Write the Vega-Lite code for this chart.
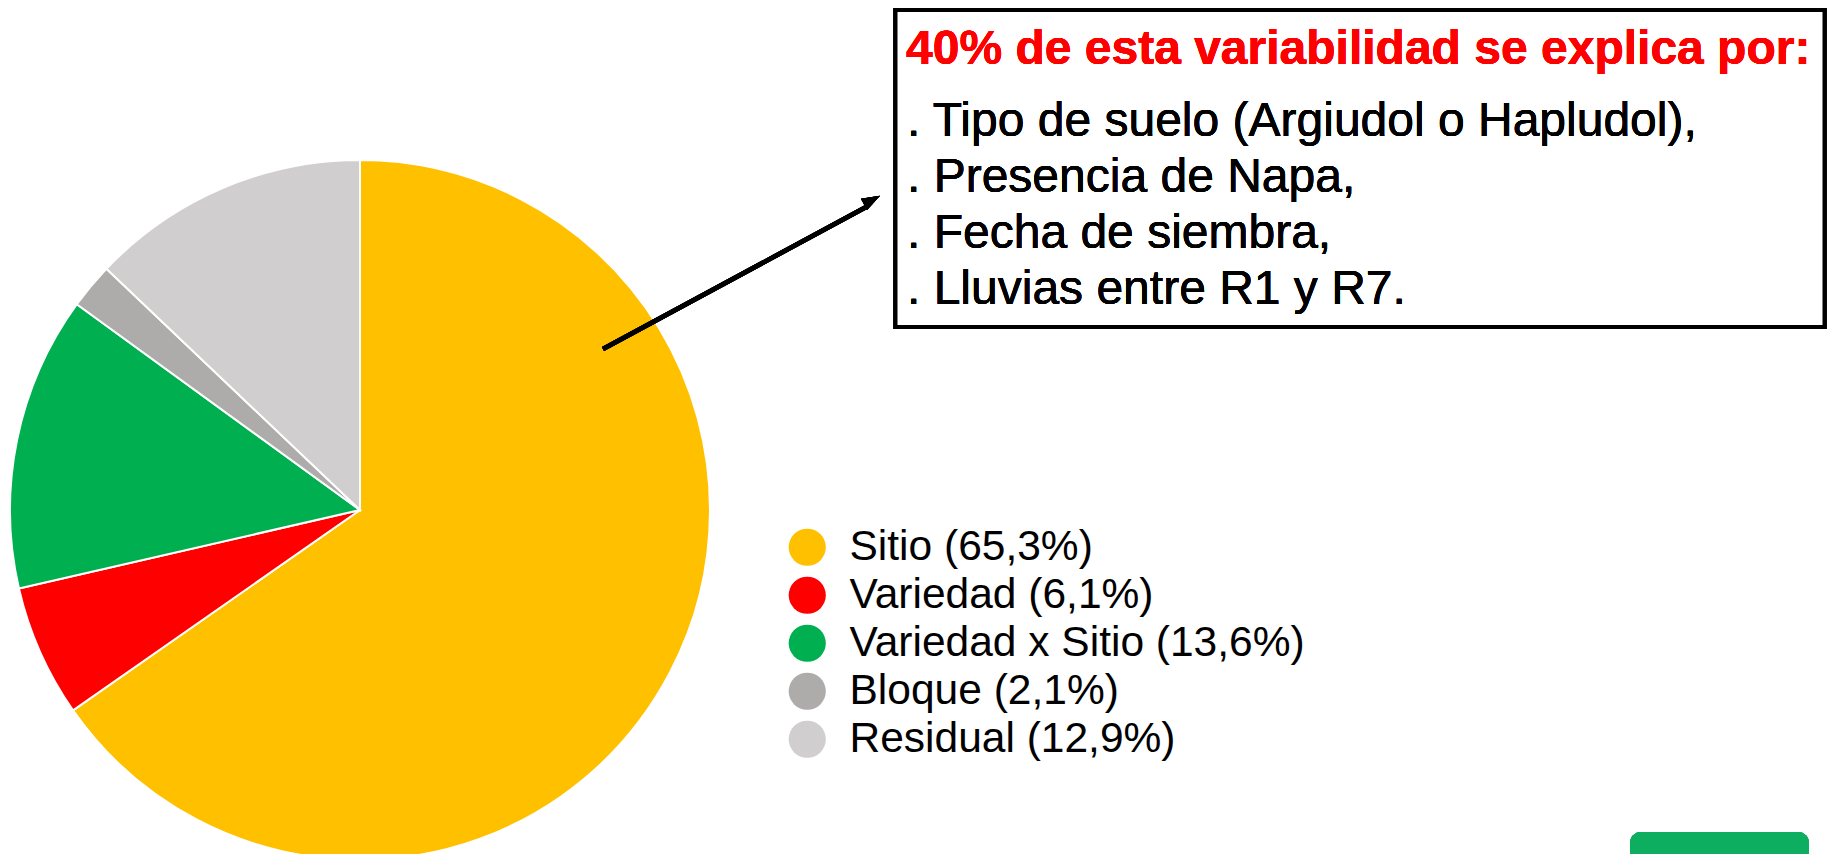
{
  "$schema": "https://vega.github.io/schema/vega-lite/v6.json",
  "width": 1829,
  "height": 854,
  "autosize": {"type": "fit", "contains": "padding"},
  "padding": 0,
  "background": "white",
  "config": {"view": {"stroke": null}, "font": "Liberation Sans"},
  "datasets": {
    "componentes": [
      {"componente": "Sitio", "pct": 65.3, "orden": 1, "etiqueta": "Sitio (65,3%)"},
      {"componente": "Variedad", "pct": 6.1, "orden": 2, "etiqueta": "Variedad (6,1%)"},
      {"componente": "Variedad x Sitio", "pct": 13.6, "orden": 3, "etiqueta": "Variedad x Sitio (13,6%)"},
      {"componente": "Bloque", "pct": 2.1, "orden": 4, "etiqueta": "Bloque (2,1%)"},
      {"componente": "Residual", "pct": 12.9, "orden": 5, "etiqueta": "Residual (12,9%)"}
    ]
  },
  "data": {"name": "componentes"},
  "layer": [
    {
      "mark": {"type": "arc", "outerRadius": 350, "stroke": "white", "strokeWidth": 2, "clip": true},
      "encoding": {
        "theta": {"field": "pct", "type": "quantitative", "stack": true},
        "order": {"field": "orden", "type": "quantitative"},
        "color": {
          "field": "etiqueta",
          "type": "nominal",
          "sort": null,
          "scale": {
            "domain": ["Sitio (65,3%)", "Variedad (6,1%)", "Variedad x Sitio (13,6%)", "Bloque (2,1%)", "Residual (12,9%)"],
            "range": ["#FFC000", "#FF0000", "#00B050", "#AEABAB", "#D0CECE"]
          },
          "legend": {
            "orient": "none",
            "legendX": 786,
            "legendY": 526,
            "title": null,
            "symbolType": "circle",
            "symbolSize": 1380,
            "symbolStrokeWidth": 0,
            "symbolOpacity": 1,
            "labelFontSize": 42.5,
            "labelFont": "Liberation Sans",
            "labelColor": "black",
            "rowPadding": 5,
            "labelOffset": 21,
            "padding": 0,
            "labelLimit": 0
          }
        },
        "x": {"datum": 360, "type": "quantitative", "scale": {"domain": [0, 1829], "nice": false}, "axis": null},
        "y": {"datum": 510, "type": "quantitative", "scale": {"domain": [0, 854], "nice": false, "reverse": true}, "axis": null}
      }
    },
    {
      "mark": {"type": "rule", "color": "black", "strokeWidth": 4.5, "strokeCap": "butt"},
      "encoding": {
        "x": {"datum": 603, "type": "quantitative"},
        "y": {"datum": 349, "type": "quantitative"},
        "x2": {"datum": 868},
        "y2": {"datum": 206}
      }
    },
    {
      "mark": {"type": "point", "shape": "M0,-1L0.7,1L-0.7,1Z", "filled": true, "color": "black", "opacity": 1, "size": 330, "angle": 61.6},
      "encoding": {
        "x": {"datum": 872, "type": "quantitative"},
        "y": {"datum": 200, "type": "quantitative"}
      }
    },
    {
      "mark": {"type": "rect", "fill": "white", "stroke": "black", "strokeWidth": 4},
      "encoding": {
        "x": {"datum": 895.5, "type": "quantitative"},
        "x2": {"datum": 1824.5},
        "y": {"datum": 10, "type": "quantitative"},
        "y2": {"datum": 327}
      }
    },
    {
      "mark": {"type": "text", "text": "40% de esta variabilidad se explica por:", "font": "Liberation Sans", "fontWeight": "bold", "fontSize": 48, "color": "#FF0000", "align": "left", "baseline": "alphabetic"},
      "encoding": {
        "x": {"datum": 906, "type": "quantitative"},
        "y": {"datum": 64, "type": "quantitative"}
      }
    },
    {
      "mark": {"type": "text", "text": [". Tipo de suelo (Argiudol o Hapludol),", ". Presencia de Napa,", ". Fecha de siembra,", ". Lluvias entre R1 y R7."], "lineHeight": 56, "font": "Liberation Sans", "fontSize": 48, "color": "black", "align": "left", "baseline": "alphabetic"},
      "encoding": {
        "x": {"datum": 907, "type": "quantitative"},
        "y": {"datum": 136, "type": "quantitative"}
      }
    },
    {
      "mark": {"type": "rect", "fill": "#0DAE5F", "cornerRadiusTopLeft": 12, "cornerRadiusTopRight": 12, "clip": true},
      "encoding": {
        "x": {"datum": 1630, "type": "quantitative"},
        "x2": {"datum": 1809},
        "y": {"datum": 832, "type": "quantitative"},
        "y2": {"datum": 854}
      }
    }
  ]
}
